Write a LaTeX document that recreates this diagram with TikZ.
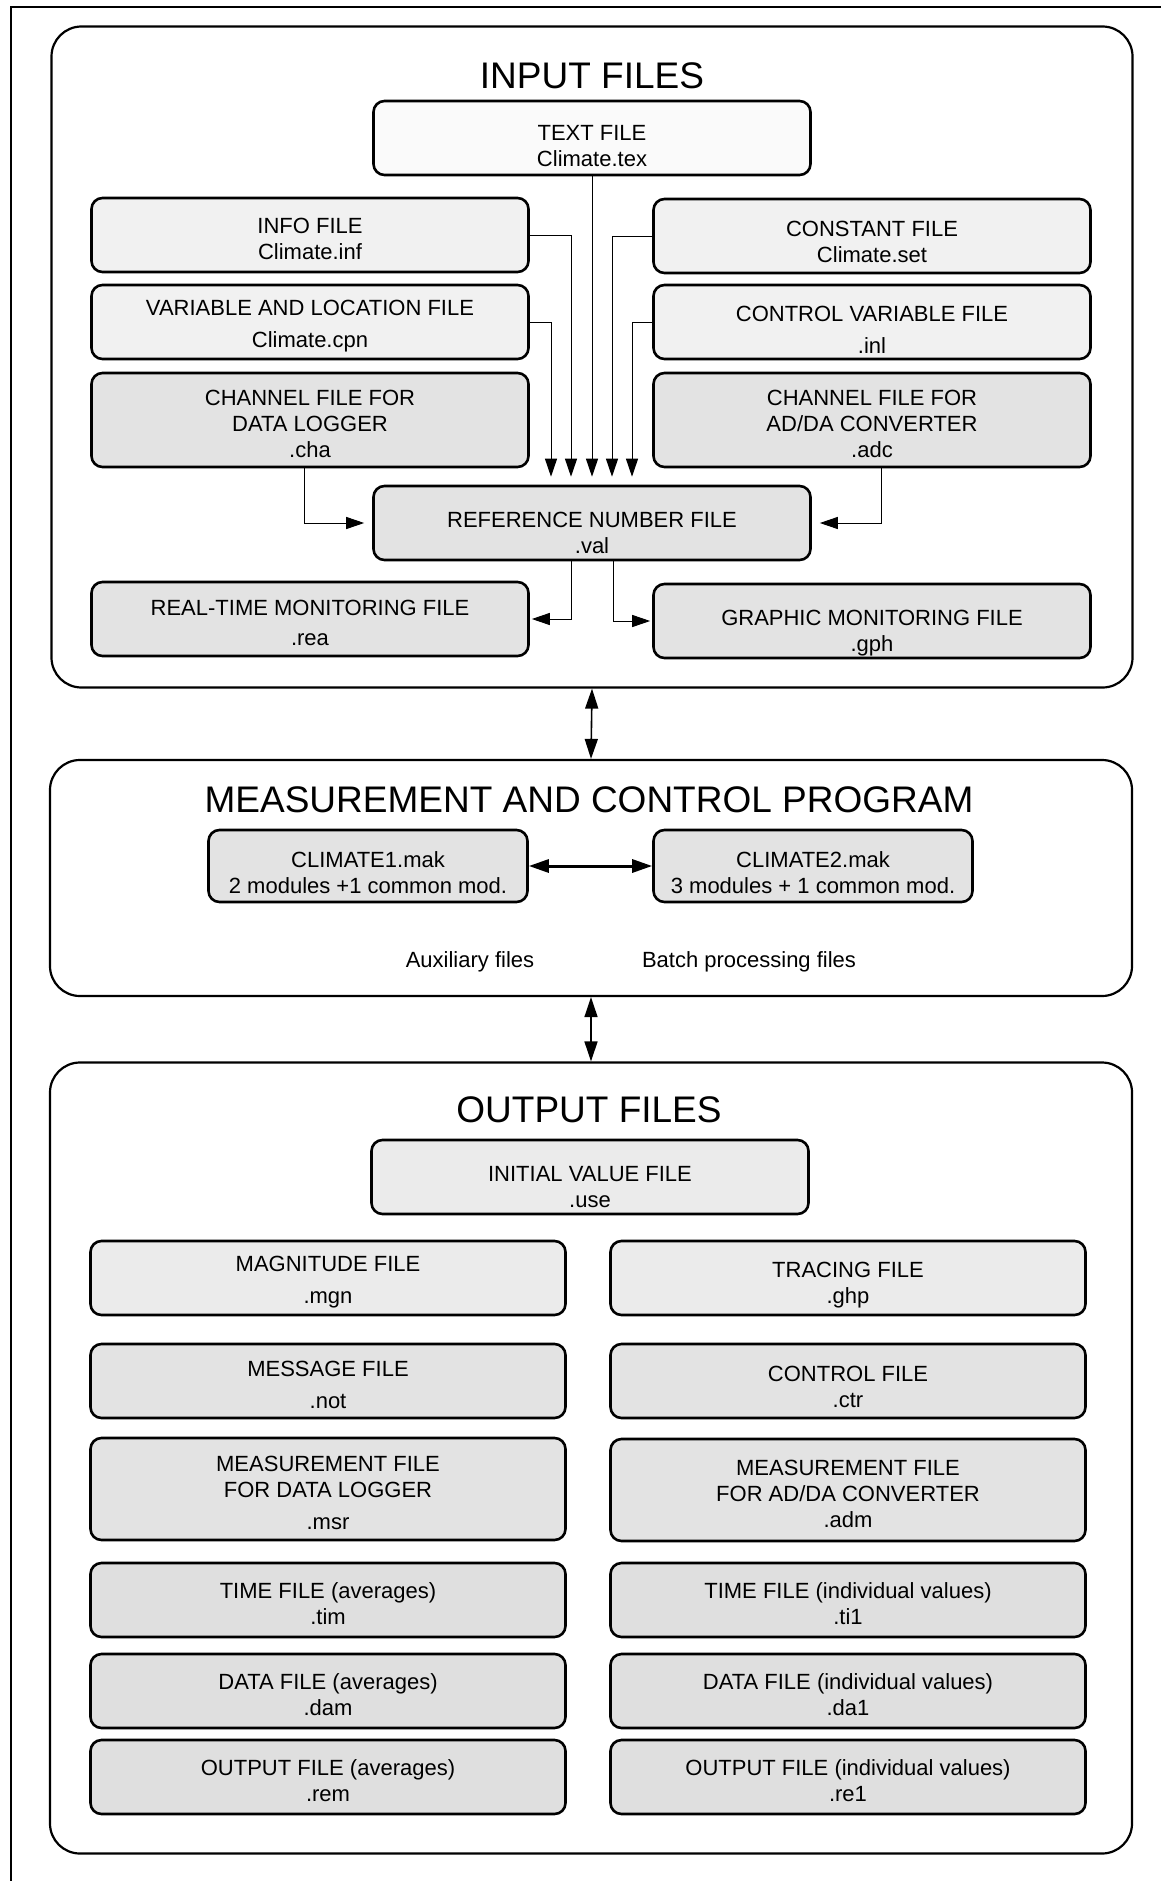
\documentclass[tikz,border=0pt]{standalone}
\usepackage{fontspec}
\setmainfont{Liberation Sans}
\usetikzlibrary{arrows.meta}
\newcommand{\topgap}[1][24pt]{\rule{0pt}{#1}}

\begin{document}
\begin{tikzpicture}
[x=1pt,y=-1pt,
bigbox/.style={rectangle,rounded corners=30pt,draw=black,line width=2.2pt,inner sep=0pt},
filebox/.style={rectangle,rounded corners=11pt,draw=black,line width=2.6pt,fill=gray!22,align=center,inner sep=0pt,minimum width=437pt,minimum height=74pt,font=\fontsize{22}{26}\selectfont},
lightbox/.style={filebox,fill=gray!11},
outfile/.style={filebox,minimum width=475pt},
head/.style={font=\fontsize{37}{44}\selectfont},
note/.style={font=\fontsize{22}{26}\selectfont},
feed/.style={-{Triangle[length=18pt,width=12pt]},line width=1pt,shorten >=8pt},
link/.style={{Triangle[length=20pt,width=13pt]}-{Triangle[length=20pt,width=13pt]},line width=1.6pt}]
\useasboundingbox (0,0) rectangle (1161,1881);
\draw[line width=1.2pt] (11,1881) -- (11,7) -- (1161,7);

% input files
\node[bigbox,minimum width=1081pt,minimum height=661pt] at (592,357) (inbox) {};
\node[head] at (592,76) (inhead) {INPUT FILES};
\node[lightbox,fill=gray!4] at (592,138) (tex) {\topgap[32pt]TEXT FILE\\Climate.tex};
\node[lightbox] at (310,235) (inf) {\topgap INFO FILE\\Climate.inf};
\node[lightbox] at (872,236) (set) {\topgap[28pt]CONSTANT FILE\\Climate.set};
\node[lightbox] at (310,322) (cpn) {\topgap VARIABLE AND LOCATION FILE\\[6pt]Climate.cpn};
\node[lightbox] at (872,322) (inl) {\topgap[30pt]CONTROL VARIABLE FILE\\[6pt].inl};
\node[filebox,minimum height=94pt] at (310,420) (cha) {\topgap CHANNEL FILE FOR\\DATA LOGGER\\.cha};
\node[filebox,minimum height=94pt] at (872,420) (adc) {\topgap CHANNEL FILE FOR\\AD/DA CONVERTER\\.adc};
\node[filebox] at (592,523) (val) {\topgap[36pt]REFERENCE NUMBER FILE\\.val};
\node[filebox] at (310,619) (rea) {\topgap REAL-TIME MONITORING FILE\\[4pt].rea};
\node[filebox] at (872,621) (gph) {\topgap[40pt]GRAPHIC MONITORING FILE\\.gph};
\draw[feed] (tex.south) -- (val.north);
\draw[feed] (inf.east) -| ([xshift=-21pt]val.north);
\draw[feed] (cpn.east) -| ([xshift=-41pt]val.north);
\draw[feed] (set.west) -| ([xshift=20pt]val.north);
\draw[feed] (inl.west) -| ([xshift=40pt]val.north);
\draw[feed] ([xshift=-6pt]cha.south) |- (val.west);
\draw[feed] ([xshift=9pt]adc.south) |- (val.east);
\draw[feed,shorten >=2pt] ([xshift=-21pt]val.south) |- (rea.east);
\draw[feed,shorten >=2pt] ([xshift=21pt]val.south) |- (gph.west);

% program
\node[bigbox,minimum width=1082pt,minimum height=236pt] at (591,878) (prog) {};
\node[head] at (589,800) (proghead) {MEASUREMENT AND CONTROL PROGRAM};
\node[filebox,minimum width=319pt,minimum height=72pt] at (368,866) (mak1) {\topgap[30pt]CLIMATE1.mak\\2 modules +1 common mod.};
\node[filebox,minimum width=319pt,minimum height=72pt] at (813,866) (mak2) {\topgap[30pt]CLIMATE2.mak\\3 modules + 1 common mod.};
\draw[link,line width=3pt] (mak1) -- (mak2);
\node[note] at (470,962) (aux) {Auxiliary files};
\node[note] at (749,962) (batch) {Batch processing files};

% output files
\node[bigbox,minimum width=1082pt,minimum height=791pt] at (591,1458) (outbox) {};
\node[head] at (589,1110) (outhead) {OUTPUT FILES};
\node[filebox,fill=gray!16] at (590,1177) (use) {\topgap[36pt]INITIAL VALUE FILE\\.use};
\node[outfile,fill=gray!16] at (328,1278) (mgn) {\topgap MAGNITUDE FILE\\[6pt].mgn};
\node[outfile,fill=gray!16] at (848,1278) (ghp) {\topgap[30pt]TRACING FILE\\.ghp};
\node[outfile] at (328,1381) (not) {\topgap MESSAGE FILE\\[6pt].not};
\node[outfile] at (848,1381) (ctr) {\topgap[28pt]CONTROL FILE\\.ctr};
\node[outfile,minimum height=102pt] at (328,1489) (msr) {\topgap MEASUREMENT FILE\\FOR DATA LOGGER\\[6pt].msr};
\node[outfile,minimum height=102pt] at (848,1490) (adm) {\topgap MEASUREMENT FILE\\FOR AD/DA CONVERTER\\.adm};
\node[outfile,fill=gray!25] at (328,1600) (tim) {\topgap TIME FILE (averages)\\.tim};
\node[outfile,fill=gray!25] at (848,1600) (ti1) {\topgap TIME FILE (individual values)\\.ti1};
\node[outfile,fill=gray!25] at (328,1691) (dam) {\topgap DATA FILE (averages)\\.dam};
\node[outfile,fill=gray!25] at (848,1691) (da1) {\topgap DATA FILE (individual values)\\.da1};
\node[outfile,fill=gray!25] at (328,1777) (rem) {\topgap OUTPUT FILE (averages)\\.rem};
\node[outfile,fill=gray!25] at (848,1777) (re1) {\topgap OUTPUT FILE (individual values)\\.re1};

\draw[link] (inbox.south) -- (prog.north);
\draw[link] (prog.south) -- (outbox.north);
\end{tikzpicture}
\end{document}
